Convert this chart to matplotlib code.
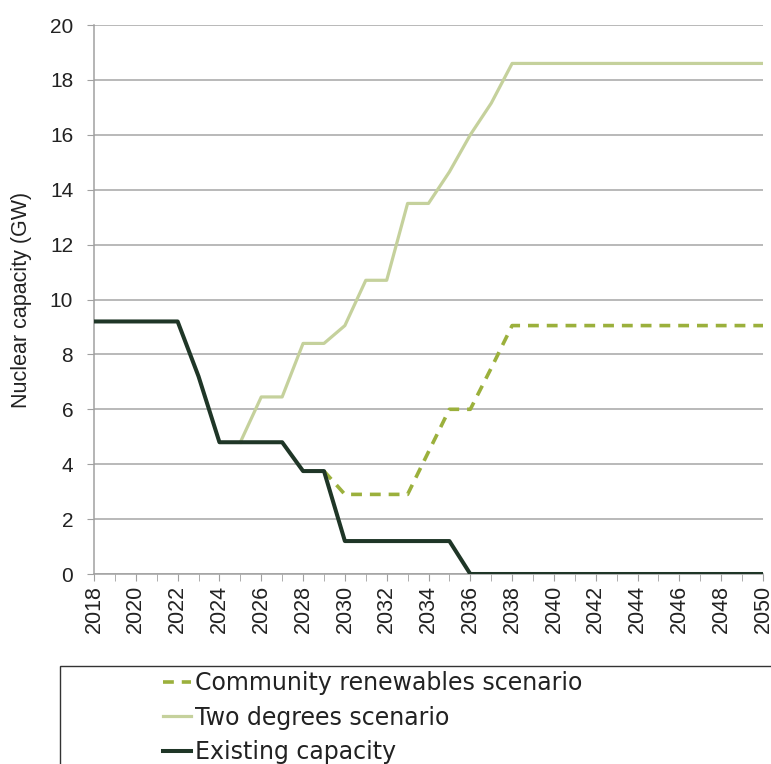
import matplotlib
matplotlib.use("Agg")
import matplotlib.pyplot as plt
from matplotlib.patches import Rectangle

plt.rcParams["font.family"] = ["Liberation Sans", "DejaVu Sans"]

years = list(range(2018, 2051))

# Existing fleet, declining as plants close
existing = [9.2, 9.2, 9.2, 9.2, 9.2, 7.2, 4.8, 4.8, 4.8, 4.8, 3.75, 3.75,
            1.2, 1.2, 1.2, 1.2, 1.2, 1.2] + [0.0] * 15

# Two degrees scenario, from 2025 onwards
two_deg_years = list(range(2025, 2051))
two_degrees = [4.8, 6.45, 6.45, 8.4, 8.4, 9.05, 10.7, 10.7, 13.5, 13.5,
               14.65, 16.0, 17.15, 18.6] + [18.6] * 12

# Community renewables scenario, from 2029 onwards
community_years = list(range(2029, 2051))
community = [3.75, 2.9, 2.9, 2.9, 2.9, 4.45, 6.0, 6.0, 7.5, 9.05] + [9.05] * 12

text_col = "#222222"

fig = plt.figure(figsize=(7.71, 7.64), dpi=100)
ax = fig.add_axes([94 / 771, 1 - 574 / 764, (763 - 94) / 771, (574 - 25) / 764])

ax.plot(two_deg_years, two_degrees, color="#c5d19c", lw=2.3,
        label="Two degrees scenario", zorder=3)
ax.plot(community_years, community, color="#9bb03c", lw=2.6, ls=(0, (3.0, 2.2)),
        label="Community renewables scenario", zorder=4)
ax.plot(years, existing, color="#1f3627", lw=2.9,
        label="Existing capacity", zorder=5)

ax.set_xlim(2018, 2050)
ax.set_ylim(0, 20)
ax.set_xticks(range(2018, 2051, 2))
ax.set_xticks(range(2018, 2051), minor=True)
ax.set_yticks(range(0, 21, 2))
ax.tick_params(axis="x", which="both", rotation=90, length=5, color="#a0a0a0",
               labelsize=15.5, labelcolor=text_col, pad=3)
ax.tick_params(axis="y", length=5, color="#a0a0a0", labelsize=15,
               labelcolor=text_col, pad=10)
ax.grid(axis="y", color="#a6a6a6", lw=1.1)
ax.set_axisbelow(True)
for side in ("top", "right"):
    ax.spines[side].set_visible(False)
for side in ("left", "bottom"):
    ax.spines[side].set_color("#a0a0a0")
    ax.spines[side].set_linewidth(1.1)
ax.set_ylabel("Nuclear capacity (GW)", fontsize=15.5, color=text_col)
ax.yaxis.set_label_coords(-0.092, 0.5)

# legend box runs off the bottom-right of the figure
fig.patches.append(Rectangle((60 / 771, -0.05), 0.98, (764 - 666) / 764 + 0.05,
                             transform=fig.transFigure, fill=False,
                             edgecolor="#333333", lw=1.0))
handles, labels = ax.get_legend_handles_labels()
order = [1, 0, 2]
fig.legend([handles[i] for i in order], [labels[i] for i in order],
           loc="upper left", bbox_to_anchor=(163 / 771, 1 - 671 / 764),
           frameon=False, handlelength=1.2, handletextpad=0.17,
           labelspacing=0.45, borderaxespad=0, borderpad=0,
           prop={"family": ["DejaVu Sans"], "size": 17}, labelcolor=text_col)

fig.savefig("out.png", dpi=100)
